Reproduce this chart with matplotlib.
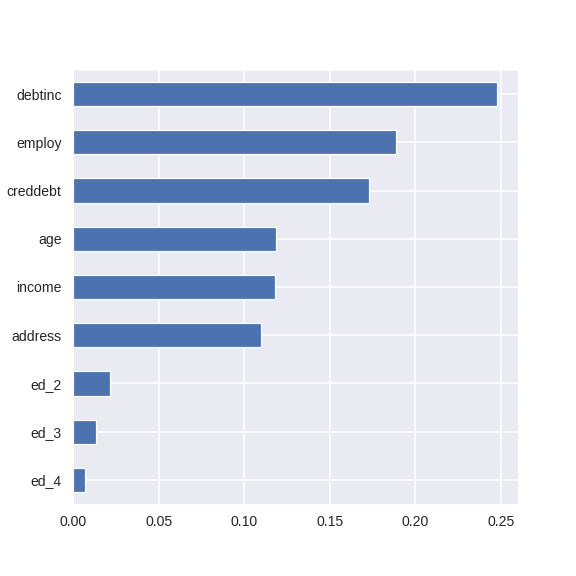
import matplotlib
matplotlib.use("Agg")

import matplotlib.pyplot as plt
import pandas as pd
import seaborn as sns

features = ["ed_4", "ed_3", "ed_2", "address", "income", "age", "creddebt", "employ", "debtinc"]
importance = [0.0072, 0.0136, 0.0218, 0.1100, 0.1182, 0.1186, 0.1731, 0.1887, 0.2478]

sns.set_style("darkgrid")
plt.rcParams["font.family"] = ["Liberation Sans", "DejaVu Sans"]
plt.rcParams["grid.linewidth"] = 1.5

s = pd.Series(importance, index=features)

fig = plt.figure(figsize=(8, 8), dpi=72)
ax = fig.add_axes([73 / 576, 72 / 576, 445 / 576, 434 / 576])
s.plot(kind="barh", ax=ax, color="#4c72b0", edgecolor="white", linewidth=1.2)
ax.tick_params(axis="x", labelsize=14, colors="#262626", pad=7)
ax.tick_params(axis="y", labelsize=14, colors="#262626", pad=8)
ax.set_xticks([0.0, 0.05, 0.10, 0.15, 0.20, 0.25])
ax.set_xticklabels(["0.00", "0.05", "0.10", "0.15", "0.20", "0.25"])
ax.set_xlim(0, 0.26)

plt.savefig("out.png", dpi=72)
plt.close()
